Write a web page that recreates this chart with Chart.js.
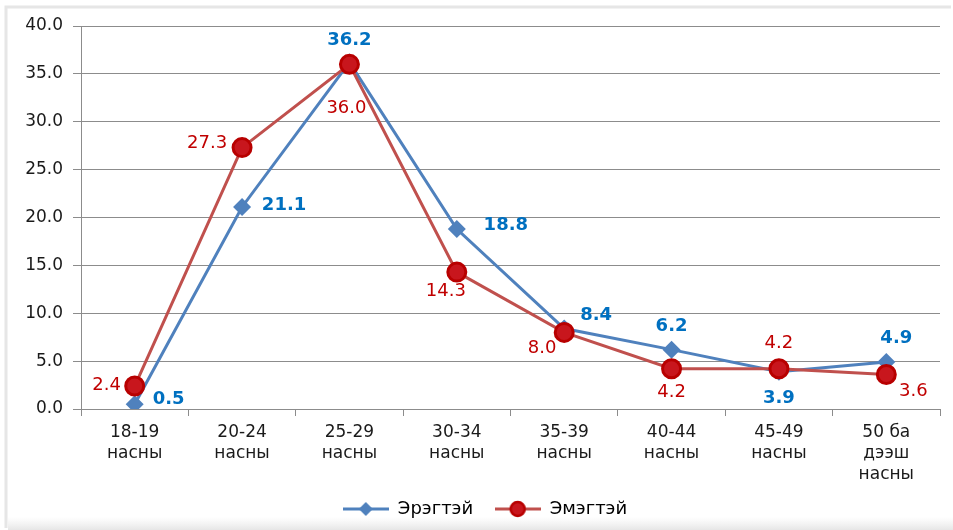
<!DOCTYPE html>
<html>
<head>
<meta charset="utf-8">
<script src="https://cdn.jsdelivr.net/npm/chart.js@4/dist/chart.umd.min.js"></script>
<style>
  html, body { margin: 0; padding: 0; background: #ffffff; }
  #wrap { width: 953px; height: 530px; }
</style>
</head>
<body>
<div id="wrap"><canvas id="container" width="953" height="530"></canvas></div>
<script>
// age groups
var ageGroups = [
  ['18-19', 'насны'],
  ['20-24', 'насны'],
  ['25-29', 'насны'],
  ['30-34', 'насны'],
  ['35-39', 'насны'],
  ['40-44', 'насны'],
  ['45-49', 'насны'],
  ['50 ба', 'дээш', 'насны']
];
var maleName = 'Эрэгтэй';
var femaleName = 'Эмэгтэй';
var maleValues = [0.5, 21.1, 36.2, 18.8, 8.4, 6.2, 3.9, 4.9];
var femaleValues = [2.4, 27.3, 36.0, 14.3, 8.0, 4.2, 4.2, 3.6];

var FONT = '"DejaVu Sans", Verdana, sans-serif';

// label offsets (dx, dy of text centre from the point)
var maleLabelPos = [[34, -5], [42, -2], [0, -22], [49, -4], [32, -13], [0, -23], [0, 27], [10, -24]];
var femaleLabelPos = [[-28, -1], [-35, -4], [-3, 44], [-11, 19], [-22, 16], [0, 24], [0, -25], [27, 17]];

// little canvas for the legend: line with marker
function legendIcon(color, marker) {
  var c = document.createElement('canvas');
  c.width = 46; c.height = 18;
  var g = c.getContext('2d');
  g.strokeStyle = color;
  g.lineWidth = 3;
  g.beginPath(); g.moveTo(0, 9); g.lineTo(46, 9); g.stroke();
  if (marker == 'diamond') {
    g.fillStyle = '#4F81BD';
    g.beginPath(); g.moveTo(23, 2); g.lineTo(30, 9); g.lineTo(23, 16); g.lineTo(16, 9); g.closePath(); g.fill();
  } else {
    g.fillStyle = '#C8161D';
    g.strokeStyle = '#B80000';
    g.lineWidth = 2.5;
    g.beginPath(); g.arc(23, 9, 7, 0, Math.PI * 2); g.fill(); g.stroke();
  }
  return c;
}

var frame = {
  id: 'frame',
  afterLayout: function(chart) {
    // legend sits a bit right of centre in the original
    chart.legend.left += 15;
    chart.legend.right += 15;
  },
  beforeDraw: function(chart) {
    var ctx = chart.ctx;
    ctx.save();
    ctx.fillStyle = '#ffffff';
    ctx.fillRect(0, 0, chart.width, chart.height);
    ctx.strokeStyle = '#e6e6e6';
    ctx.lineWidth = 3;
    ctx.beginPath();
    ctx.moveTo(6, 528); ctx.lineTo(6, 7); ctx.lineTo(951, 7);
    ctx.stroke();
    var grd = ctx.createLinearGradient(0, 517, 0, 530);
    grd.addColorStop(0, 'rgba(235,235,235,0)');
    grd.addColorStop(1, 'rgba(230,230,230,1)');
    ctx.fillStyle = grd;
    ctx.fillRect(8, 517, 945, 13);
    ctx.restore();
  }
};

var valueLabels = {
  id: 'valueLabels',
  afterDatasetsDraw: function(chart) {
    var ctx = chart.ctx;
    ctx.save();
    ctx.textAlign = 'center';
    ctx.textBaseline = 'middle';
    chart.data.datasets.forEach(function(ds, di) {
      var meta = chart.getDatasetMeta(di);
      var pos = di == 0 ? maleLabelPos : femaleLabelPos;
      ctx.fillStyle = di == 0 ? '#0070C0' : '#C00000';
      ctx.font = (di == 0 ? 'bold ' : '') + '18px ' + FONT;
      meta.data.forEach(function(pt, i) {
        ctx.fillText(ds.data[i].toFixed(1), pt.x + pos[i][0], pt.y + pos[i][1]);
      });
    });
    ctx.restore();
  }
};

var ctx = document.getElementById('container');
var chart = new Chart(ctx, {
  type: 'line',
  data: {
    labels: ageGroups,
    datasets: [{
      label: maleName,
      data: maleValues,
      borderColor: '#4F81BD',
      backgroundColor: '#4F81BD',
      borderWidth: 3,
      pointStyle: 'rectRot',
      pointRadius: 9,
      pointBorderWidth: 0,
      pointBackgroundColor: '#4F81BD',
      tension: 0,
      order: 1
    }, {
      label: femaleName,
      data: femaleValues,
      borderColor: '#C0504D',
      backgroundColor: '#C0504D',
      borderWidth: 3,
      pointStyle: 'circle',
      pointRadius: 9,
      pointBorderWidth: 3,
      pointBorderColor: '#B80000',
      pointBackgroundColor: '#C8161D',
      tension: 0,
      order: 0
    }]
  },
  options: {
    responsive: false,
    maintainAspectRatio: false,
    animation: false,
    layout: { padding: { left: 0, right: 13, top: 26, bottom: 2 } },
    plugins: {
      tooltip: { enabled: false },
      title: { display: false },
      legend: {
        position: 'bottom',
        labels: {
          color: '#111',
          font: { family: FONT, size: 18 },
          usePointStyle: true,
          pointStyleWidth: 46,
          boxHeight: 16,
          padding: 10,
          generateLabels: function(chart) {
            return chart.data.datasets.map(function(ds, i) {
              return {
                text: i == 0 ? ds.label + '  ' : ds.label,
                pointStyle: legendIcon(ds.borderColor, i == 0 ? 'diamond' : 'circle'),
                fillStyle: ds.borderColor,
                strokeStyle: ds.borderColor,
                lineWidth: 0,
                hidden: false,
                datasetIndex: i
              };
            });
          }
        }
      }
    },
    scales: {
      x: {
        offset: true,
        grid: { display: true, drawOnChartArea: false, drawTicks: true, offset: true, tickLength: 7, color: '#8c8c8c' },
        border: { display: true, color: '#8c8c8c', width: 1 },
        ticks: { color: '#1a1a1a', font: { family: FONT, size: 17, lineHeight: 1.24 }, padding: 6, maxRotation: 0, autoSkip: false },
        afterFit: function(scale) { scale.height = 81; }
      },
      y: {
        min: 0,
        max: 40,
        grid: { color: '#8c8c8c', lineWidth: 1, tickLength: 8 },
        border: { display: true, color: '#8c8c8c', width: 1 },
        ticks: {
          stepSize: 5,
          color: '#1a1a1a',
          font: { family: FONT, size: 17 },
          padding: 10,
          callback: function(v) { return v.toFixed(1); }
        },
        afterFit: function(scale) { scale.width = 81; }
      }
    }
  },
  plugins: [frame, valueLabels]
});
</script>
</body>
</html>
